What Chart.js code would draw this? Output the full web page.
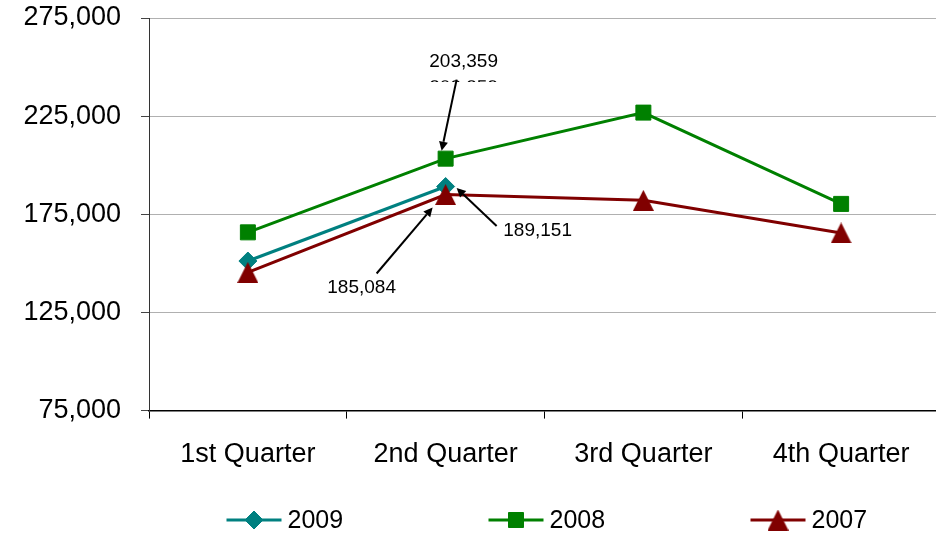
<!DOCTYPE html>
<html>
<head>
<meta charset="utf-8">
<script src="https://cdn.jsdelivr.net/npm/chart.js@4.4.1/dist/chart.umd.min.js"></script>
<style>
html,body{margin:0;padding:0;background:#fff;overflow:hidden;}
#wrap{width:936px;height:535px;overflow:hidden;}
</style>
</head>
<body>
<div id="wrap"><canvas id="c" width="940" height="535"></canvas></div>
<script>
// ---- data ----
const categories = ["1st Quarter", "2nd Quarter", "3rd Quarter", "4th Quarter"];
const seriesNames = ["2009", "2008", "2007"];
const values2009 = [151200, 189151, null, null];
const values2008 = [165800, 203359, 226800, 180300];
const values2007 = [145400, 185084, 182100, 165500];
const yTicks = [75000, 125000, 175000, 225000, 275000];
const annotatedValues = [
  { series: 1, index: 1, label: "203,359" },
  { series: 0, index: 1, label: "189,151" },
  { series: 2, index: 1, label: "185,084" }
];

// ---- styles ----
const colors = ["#008080", "#008000", "#800000"];
const FONT = "'Liberation Sans', Arial, sans-serif";

function makeTriangle(color) {
  const cv = document.createElement('canvas');
  cv.width = 21; cv.height = 21;
  const g = cv.getContext('2d');
  g.fillStyle = color;
  g.beginPath();
  g.moveTo(10.5, 0);
  g.lineTo(21, 21);
  g.lineTo(0, 21);
  g.closePath();
  g.fill();
  return cv;
}
const tri = makeTriangle(colors[2]);
const pointStyles = ["rectRot", "rect", tri];
const pointRadii = [9, 10.6, 10];

// annotation placement relative to the annotated point (px)
const annoLayout = {
  1: { text: [18, -97], from: [11, -79], to: [-4, -8], ghost: true },
  0: { text: [92, 44.5], from: [51, 39.5], to: [11, 1.5] },
  2: { text: [-84, 93], from: [-69, 79], to: [-13, 13] }
};

function drawArrow(ctx, x1, y1, x2, y2) {
  const ang = Math.atan2(y2 - y1, x2 - x1);
  const hl = 9, hw = 4.5;
  const bx = x2 - Math.cos(ang) * hl, by = y2 - Math.sin(ang) * hl;
  ctx.strokeStyle = '#000';
  ctx.fillStyle = '#000';
  ctx.lineWidth = 2;
  ctx.beginPath();
  ctx.moveTo(x1, y1);
  ctx.lineTo(bx, by);
  ctx.stroke();
  ctx.beginPath();
  ctx.moveTo(x2, y2);
  ctx.lineTo(bx + Math.sin(ang) * hw, by - Math.cos(ang) * hw);
  ctx.lineTo(bx - Math.sin(ang) * hw, by + Math.cos(ang) * hw);
  ctx.closePath();
  ctx.fill();
}

const annotationPlugin = {
  id: 'annos',
  afterDatasetsDraw(chart) {
    const ctx = chart.ctx;
    ctx.save();
    annotatedValues.forEach(a => {
      const pt = chart.getDatasetMeta(a.series).data[a.index];
      const L = annoLayout[a.series];
      const px = pt.x, py = pt.y;
      ctx.font = "19px " + FONT;
      ctx.fillStyle = '#000';
      ctx.textAlign = 'center';
      ctx.textBaseline = 'middle';
      ctx.fillText(a.label, px + L.text[0], py + L.text[1]);
      if (L.ghost) {
        // partially hidden duplicate label (only the top of the digits shows)
        const gy = py + L.text[1] + 26;
        ctx.save();
        ctx.beginPath();
        ctx.rect(px + L.text[0] - 45, gy - 7.5, 90, 1.8);
        ctx.clip();
        ctx.fillText(a.label, px + L.text[0], gy);
        ctx.restore();
      }
      drawArrow(ctx, px + L.from[0], py + L.from[1], px + L.to[0], py + L.to[1]);
    });
    ctx.restore();
  }
};

const legendPlugin = {
  id: 'customLegend',
  afterDraw(chart) {
    const ctx = chart.ctx;
    const ca = chart.chartArea;
    const center = (ca.left + ca.right) / 2;
    const spacing = 262;
    const start = center - 318;
    const y = 520;
    ctx.save();
    seriesNames.forEach((name, i) => {
      const x0 = start + i * spacing;
      ctx.strokeStyle = colors[i];
      ctx.lineWidth = 3;
      ctx.beginPath();
      ctx.moveTo(x0, y);
      ctx.lineTo(x0 + 55, y);
      ctx.stroke();
      ctx.fillStyle = colors[i];
      ctx.strokeStyle = colors[i];
      ctx.lineWidth = 1;
      Chart.helpers.drawPoint(ctx, { pointStyle: pointStyles[i], radius: pointRadii[i], rotation: 0, borderWidth: 1 }, x0 + 27.5, y);
      ctx.fillStyle = '#000';
      ctx.font = "25px " + FONT;
      ctx.textAlign = 'left';
      ctx.textBaseline = 'middle';
      ctx.fillText(name, x0 + 61, y + 1);
    });
    ctx.restore();
  }
};

const allValues = [values2009, values2008, values2007];
const datasets = seriesNames.map((name, i) => ({
  label: name,
  data: allValues[i],
  borderColor: colors[i],
  backgroundColor: colors[i],
  borderWidth: 3,
  pointStyle: pointStyles[i],
  pointRadius: pointRadii[i],
  pointHoverRadius: pointRadii[i],
  pointBorderWidth: 1,
  pointBorderColor: colors[i],
  pointBackgroundColor: colors[i],
  tension: 0,
  spanGaps: false,
  order: [2, 1, 0][i]
}));

new Chart(document.getElementById('c'), {
  type: 'line',
  data: { labels: categories, datasets },
  options: {
    responsive: false,
    animation: false,
    devicePixelRatio: 1,
    layout: { autoPadding: false, padding: { top: 18, right: 0, left: 0, bottom: 44 } },
    plugins: {
      legend: { display: false },
      tooltip: { enabled: false }
    },
    scales: {
      x: {
        offset: true,
        afterFit(scale) { scale.paddingLeft = 0; scale.paddingRight = 0; },
        grid: {
          offset: true,
          drawOnChartArea: false,
          drawTicks: true,
          tickLength: 8,
          color: '#000',
          lineWidth: 1
        },
        border: { color: '#000', width: 1.5 },
        ticks: {
          color: '#000',
          font: { family: FONT, size: 27 },
          padding: 20,
          maxRotation: 0
        }
      },
      y: {
        min: yTicks[0],
        max: yTicks[yTicks.length - 1],
        afterBuildTicks(scale) { scale.ticks = yTicks.map(v => ({ value: v })); },
        afterFit(scale) { scale.width = 149; scale.paddingTop = 0; scale.paddingBottom = 0; },
        grid: {
          color: '#b0b0b0',
          tickColor: '#444',
          lineWidth: 1,
          tickLength: 8
        },
        border: { color: '#333', width: 1 },
        ticks: {
          color: '#000',
          font: { family: FONT, size: 27 },
          padding: 20,
          callback: v => v.toLocaleString('en-US')
        }
      }
    }
  },
  plugins: [annotationPlugin, legendPlugin]
});
</script>
</body>
</html>
